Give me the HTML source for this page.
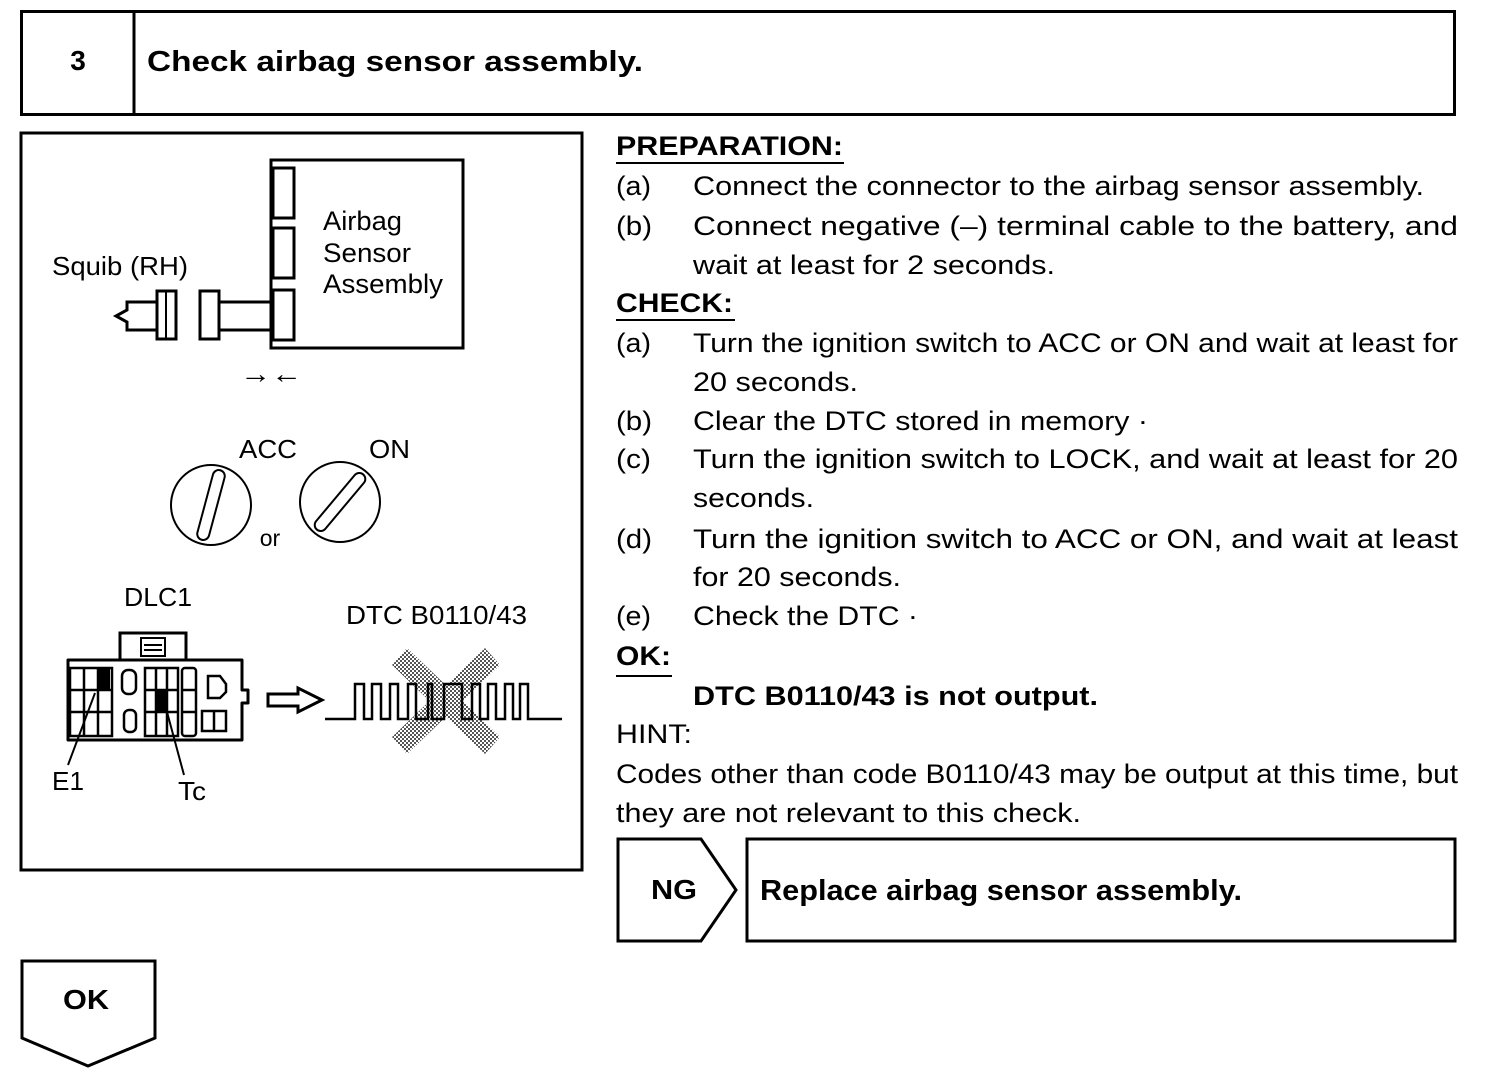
<!DOCTYPE html>
<html><head><style>
html,body{margin:0;padding:0;background:#fff;}
svg{display:block;}
text{font-family:"Liberation Sans",Arial,sans-serif;fill:#000;}
.b{font-weight:bold;}
</style></head><body>
<svg width="1504" height="1072" viewBox="0 0 1504 1072">
<defs>
<pattern id="hatch" width="4" height="4" patternUnits="userSpaceOnUse">
<rect width="4" height="4" fill="#fff"/><rect width="2" height="2" fill="#555"/><rect x="2" y="2" width="2" height="2" fill="#555"/>
</pattern>
</defs>
<g lengthAdjust="spacingAndGlyphs">
<!-- header -->
<rect x="21.5" y="11.5" width="1433" height="103" fill="none" stroke="#000" stroke-width="3"/>
<line x1="134" y1="11" x2="134" y2="115" stroke="#000" stroke-width="3"/>
<text x="78" y="70" font-size="28" class="b" text-anchor="middle">3</text>
<text x="147" y="71" font-size="29" class="b" textLength="496" lengthAdjust="spacingAndGlyphs">Check airbag sensor assembly.</text>

<!-- left illustration box -->
<rect x="21" y="133" width="561" height="737" fill="none" stroke="#000" stroke-width="3"/>
<rect x="271" y="160" width="192" height="188" fill="none" stroke="#000" stroke-width="3"/>
<rect x="273" y="168" width="21" height="50" fill="#fff" stroke="#000" stroke-width="3"/>
<rect x="273" y="228" width="21" height="50" fill="#fff" stroke="#000" stroke-width="3"/>
<rect x="273" y="290" width="21" height="50" fill="#fff" stroke="#000" stroke-width="3"/>
<text x="323" y="230" font-size="27" textLength="79" lengthAdjust="spacingAndGlyphs">Airbag</text>
<text x="323" y="262" font-size="27" textLength="88" lengthAdjust="spacingAndGlyphs">Sensor</text>
<text x="323" y="293" font-size="27" textLength="120" lengthAdjust="spacingAndGlyphs">Assembly</text>
<text x="52" y="275" font-size="26" textLength="136" lengthAdjust="spacingAndGlyphs">Squib (RH)</text>
<path d="M219 302 H273 M219 330 H273" stroke="#000" stroke-width="3" fill="none"/>
<rect x="200" y="291" width="19" height="48" fill="#fff" stroke="#000" stroke-width="3"/>
<rect x="157" y="291" width="19" height="48" fill="#fff" stroke="#000" stroke-width="3"/>
<path d="M157 302 H127 V310 L116 316 L127 322 V330 H157" fill="none" stroke="#000" stroke-width="3"/>
<line x1="166" y1="291" x2="166" y2="339" stroke="#000" stroke-width="2"/>
<text x="240" y="383" font-size="28" textLength="62" lengthAdjust="spacingAndGlyphs">→←</text>
<text x="239" y="458" font-size="26" textLength="58" lengthAdjust="spacingAndGlyphs">ACC</text>
<text x="369" y="458" font-size="26" textLength="41" lengthAdjust="spacingAndGlyphs">ON</text>
<circle cx="211" cy="505" r="40" fill="none" stroke="#000" stroke-width="2"/>
<rect x="205" y="469" width="12" height="72" rx="6" fill="none" stroke="#000" stroke-width="2" transform="rotate(15 211 505)"/>
<circle cx="340" cy="502" r="40" fill="none" stroke="#000" stroke-width="2"/>
<rect x="334" y="466" width="12" height="72" rx="6" fill="none" stroke="#000" stroke-width="2" transform="rotate(40 340 502)"/>
<text x="270" y="546" font-size="23" text-anchor="middle">or</text>
<!-- DLC1 -->
<text x="124" y="606" font-size="26" textLength="68" lengthAdjust="spacingAndGlyphs">DLC1</text>
<path d="M120 660 V633 H186 V660" fill="none" stroke="#000" stroke-width="3"/>
<rect x="141" y="638" width="24" height="18" fill="none" stroke="#000" stroke-width="2"/>
<line x1="144" y1="645" x2="162" y2="645" stroke="#000" stroke-width="2"/>
<line x1="144" y1="650" x2="162" y2="650" stroke="#000" stroke-width="2"/>
<path d="M68 660 H242 V690 H248 V703 H242 V740 H68 Z" fill="none" stroke="#000" stroke-width="3" stroke-linejoin="round"/>
<g stroke="#000" stroke-width="2.5" fill="none">
<rect x="70" y="668" width="42" height="68"/>
<line x1="84" y1="668" x2="84" y2="736"/><line x1="98" y1="668" x2="98" y2="736"/>
<line x1="70" y1="690" x2="112" y2="690"/><line x1="70" y1="712" x2="112" y2="712"/>
<rect x="122" y="670" width="14" height="24" rx="6"/>
<rect x="124" y="710" width="12" height="22" rx="5"/>
<rect x="145" y="668" width="33" height="68"/>
<line x1="156" y1="668" x2="156" y2="736"/><line x1="167" y1="668" x2="167" y2="736"/>
<line x1="145" y1="690" x2="178" y2="690"/><line x1="145" y1="712" x2="178" y2="712"/>
<rect x="182" y="668" width="14" height="68" rx="3"/>
<line x1="182" y1="690" x2="196" y2="690"/><line x1="182" y1="712" x2="196" y2="712"/>
<path d="M208 676 H220 L226 684 V692 L220 698 H208 Z"/>
<rect x="202" y="711" width="24" height="20"/><line x1="214" y1="711" x2="214" y2="731"/>
</g>
<rect x="98" y="668" width="12" height="22" fill="#000"/>
<rect x="156" y="690" width="11" height="22" fill="#000"/>
<line x1="95" y1="693" x2="68" y2="765" stroke="#000" stroke-width="2"/>
<line x1="167" y1="712" x2="184" y2="775" stroke="#000" stroke-width="2"/>
<text x="52" y="790" font-size="26" textLength="32" lengthAdjust="spacingAndGlyphs">E1</text>
<text x="178" y="800" font-size="26" textLength="28" lengthAdjust="spacingAndGlyphs">Tc</text>
<path d="M268 694 H298 V688 L322 700 L298 712 V706 H268 Z" fill="none" stroke="#000" stroke-width="3"/>
<text x="346" y="624" font-size="26" textLength="181" lengthAdjust="spacingAndGlyphs">DTC B0110/43</text>
<g fill="url(#hatch)">
<polygon points="392,665 407,648 500,737 485,754"/>
<polygon points="485,648 500,665 407,754 392,737"/>
</g>
<path d="M325 719 H355 V684 H364 V719 H372 V684 H381 V719 H390 V684 H398 V719 H408 V684 H416 V719 H428 V684 H432 V719 H444 V684 H462 V719 H472 V684 H480 V719 H488 V684 H496 V719 H505 V684 H513 V719 H520 V684 H528 V719 H562" fill="none" stroke="#000" stroke-width="2.5"/>

<!-- right text -->
<g font-size="27">
<text x="616" y="155" class="b" textLength="227" lengthAdjust="spacingAndGlyphs">PREPARATION:</text>
<line x1="616" y1="163" x2="844" y2="163" stroke="#000" stroke-width="2"/>
<text x="616" y="195" textLength="35" lengthAdjust="spacingAndGlyphs">(a)</text><text x="693" y="195" textLength="731" lengthAdjust="spacingAndGlyphs">Connect the connector to the airbag sensor assembly.</text>
<text x="616" y="235" textLength="36" lengthAdjust="spacingAndGlyphs">(b)</text><text x="693" y="235" textLength="765" lengthAdjust="spacingAndGlyphs">Connect negative (–) terminal cable to the battery, and</text>
<text x="693" y="274" textLength="362" lengthAdjust="spacingAndGlyphs">wait at least for 2 seconds.</text>
<text x="616" y="312" class="b" textLength="117" lengthAdjust="spacingAndGlyphs">CHECK:</text>
<line x1="616" y1="320" x2="735" y2="320" stroke="#000" stroke-width="2"/>
<text x="616" y="352" textLength="35" lengthAdjust="spacingAndGlyphs">(a)</text><text x="693" y="352" textLength="765" lengthAdjust="spacingAndGlyphs">Turn the ignition switch to ACC or ON and wait at least for</text>
<text x="693" y="391" textLength="165" lengthAdjust="spacingAndGlyphs">20 seconds.</text>
<text x="616" y="430" textLength="36" lengthAdjust="spacingAndGlyphs">(b)</text><text x="693" y="430" textLength="455" lengthAdjust="spacingAndGlyphs">Clear the DTC stored in memory ·</text>
<text x="616" y="468" textLength="35" lengthAdjust="spacingAndGlyphs">(c)</text><text x="693" y="468" textLength="765" lengthAdjust="spacingAndGlyphs">Turn the ignition switch to LOCK, and wait at least for 20</text>
<text x="693" y="507" textLength="121" lengthAdjust="spacingAndGlyphs">seconds.</text>
<text x="616" y="548" textLength="36" lengthAdjust="spacingAndGlyphs">(d)</text><text x="693" y="548" textLength="765" lengthAdjust="spacingAndGlyphs">Turn the ignition switch to ACC or ON, and wait at least</text>
<text x="693" y="586" textLength="208" lengthAdjust="spacingAndGlyphs">for 20 seconds.</text>
<text x="616" y="625" textLength="35" lengthAdjust="spacingAndGlyphs">(e)</text><text x="693" y="625" textLength="225" lengthAdjust="spacingAndGlyphs">Check the DTC ·</text>
<text x="616" y="665" class="b" textLength="55" lengthAdjust="spacingAndGlyphs">OK:</text>
<line x1="616" y1="676" x2="672" y2="676" stroke="#000" stroke-width="2"/>
<text x="693" y="705" class="b" textLength="405" lengthAdjust="spacingAndGlyphs">DTC B0110/43 is not output.</text>
<text x="616" y="743" textLength="76" lengthAdjust="spacingAndGlyphs">HINT:</text>
<text x="616" y="783" textLength="842" lengthAdjust="spacingAndGlyphs">Codes other than code B0110/43 may be output at this time, but</text>
<text x="616" y="822" textLength="465" lengthAdjust="spacingAndGlyphs">they are not relevant to this check.</text>
</g>

<path d="M618 839 H701 L736 890 L701 941 H618 Z" fill="none" stroke="#000" stroke-width="3"/>
<text x="651" y="899" font-size="28" class="b" textLength="46" lengthAdjust="spacingAndGlyphs">NG</text>
<rect x="747" y="839" width="708" height="102" fill="none" stroke="#000" stroke-width="3"/>
<text x="760" y="900" font-size="29" class="b" textLength="482" lengthAdjust="spacingAndGlyphs">Replace airbag sensor assembly.</text>

<path d="M22 961 H155 V1038 L88 1066 L22 1038 Z" fill="none" stroke="#000" stroke-width="3"/>
<text x="63" y="1009" font-size="28" class="b" textLength="46" lengthAdjust="spacingAndGlyphs">OK</text>
</g>
</svg>
</body></html>
